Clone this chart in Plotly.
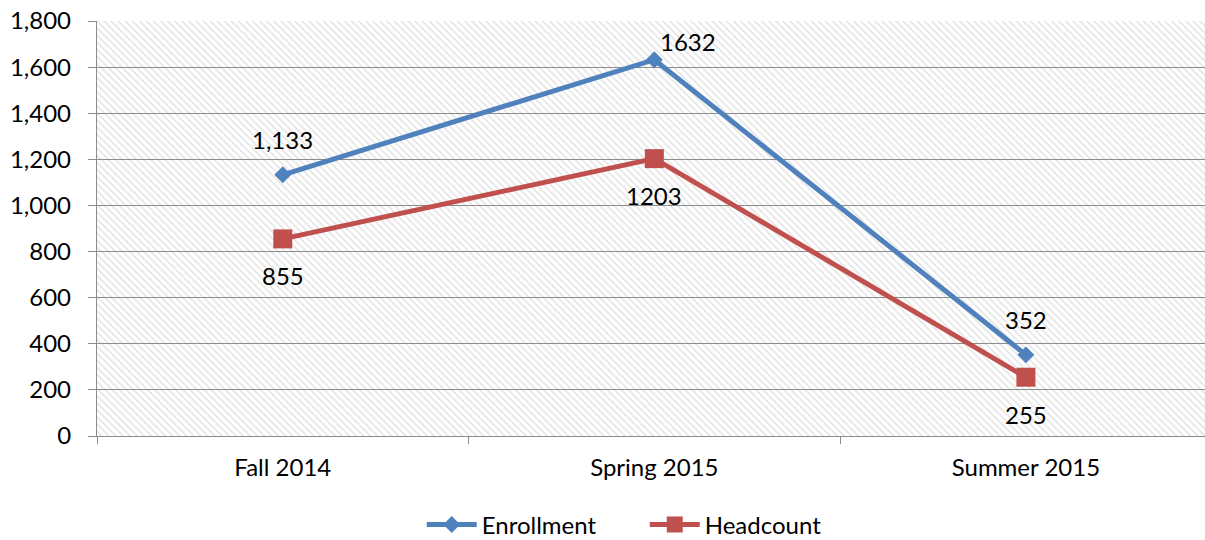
import plotly.graph_objects as go

categories = ["Fall 2014", "Spring 2015", "Summer 2015"]
enrollment = [1133, 1632, 352]
headcount = [855, 1203, 255]
enroll_labels = ["1,133", "1632", "352"]
head_labels = ["855", "1203", "255"]
y_ticks = [0, 200, 400, 600, 800, 1000, 1200, 1400, 1600, 1800]

BLUE = "#4F81BD"
RED = "#C0504D"
GRID = "#8c8c8c"
FONT = "Lato"
FS = 24

fig = go.Figure()

# hatched plot-area background on its own (first) subplot, drawn under the gridlines
fig.add_trace(go.Bar(
    x=[0.5], y=[1], width=[1], xaxis="x", yaxis="y",
    marker=dict(color="white", line=dict(width=0),
                pattern=dict(shape="\\", fgcolor="#c8c8c8", bgcolor="white",
                             size=5, solidity=0.3)),
    hoverinfo="skip", showlegend=False,
))

fig.add_trace(go.Scatter(
    x=categories, y=enrollment, name="Enrollment", xaxis="x2", yaxis="y2",
    mode="lines+markers",
    line=dict(color=BLUE, width=5),
    marker=dict(symbol="diamond", size=13, color=BLUE),
))
fig.add_trace(go.Scatter(
    x=categories, y=headcount, name="Headcount", xaxis="x2", yaxis="y2",
    mode="lines+markers",
    line=dict(color=RED, width=5),
    marker=dict(symbol="square", size=19, color=RED),
))

annotations = []
for i, (c, v, t) in enumerate(zip(categories, enrollment, enroll_labels)):
    if i == 1:
        annotations.append(dict(x=c, y=v, xref="x2", yref="y2", text=t, showarrow=False,
                                xanchor="left", xshift=4, yshift=18,
                                font=dict(family=FONT, size=FS, color="black")))
    else:
        annotations.append(dict(x=c, y=v, xref="x2", yref="y2", text=t, showarrow=False,
                                yshift=35, font=dict(family=FONT, size=FS, color="black")))
for c, v, t in zip(categories, headcount, head_labels):
    annotations.append(dict(x=c, y=v, xref="x2", yref="y2", text=t, showarrow=False,
                            yshift=-37, font=dict(family=FONT, size=FS, color="black")))

fig.update_layout(
    width=1205, height=540,
    margin=dict(l=97, r=0, t=21, b=104, autoexpand=False),
    paper_bgcolor="white", plot_bgcolor="rgba(0,0,0,0)",
    font=dict(family=FONT, size=FS, color="black"),
    bargap=0,
    xaxis=dict(range=[0, 1], domain=[0, 1], anchor="y", visible=False, fixedrange=True),
    yaxis=dict(range=[0, 1], domain=[0, 1], anchor="x", visible=False, fixedrange=True),
    xaxis2=dict(
        domain=[0, 1], anchor="y2", type="category",
        range=[-0.5, 2.482],
        showgrid=False, showline=True, linecolor=GRID, linewidth=1.3,
        ticks="outside", tickson="boundaries", ticklen=7, tickcolor=GRID, tickwidth=1.3,
        ticklabelstandoff=10,
        tickfont=dict(family=FONT, size=FS, color="black"),
    ),
    yaxis2=dict(
        domain=[0, 1], anchor="x2",
        range=[0, 1800], tickvals=y_ticks, tickformat=",",
        showgrid=True, gridcolor=GRID, gridwidth=1.3,
        showline=True, linecolor=GRID, linewidth=1.3,
        ticks="outside", ticklen=8, tickcolor=GRID, tickwidth=1.3,
        ticklabelstandoff=12, zeroline=False,
        tickfont=dict(family=FONT, size=FS, color="black"),
    ),
    legend=dict(
        orientation="h", xref="container", yref="container",
        x=0.350, xanchor="left", y=0.028, yanchor="middle",
        font=dict(family=FONT, size=FS, color="black"),
        itemwidth=50, entrywidth=158, bgcolor="rgba(0,0,0,0)",
    ),
    annotations=annotations,
    showlegend=True,
)

fig.write_html(
    "out.html",
    config={"displayModeBar": False},
    post_script="document.body.style.margin='0';document.body.style.overflow='hidden';",
)
